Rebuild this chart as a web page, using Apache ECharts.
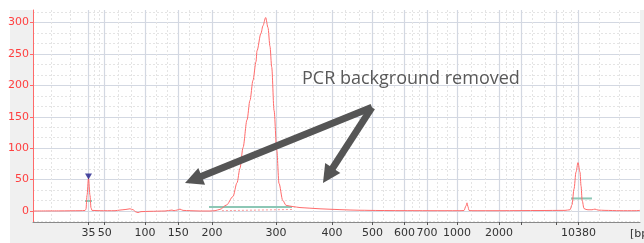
<!DOCTYPE html>
<html>
<head>
<meta charset="utf-8">
<script src="https://cdn.jsdelivr.net/npm/echarts@6/dist/echarts.min.js"></script>
<style>
  html, body { margin: 0; padding: 0; background: #ffffff; }
  #wrap { position: relative; width: 644px; height: 243px; overflow: hidden; }
  #panel { position: absolute; left: 10px; top: 10px; width: 634px; height: 233px; background: #f0f0f0; }
  #chart { position: absolute; left: 0; top: 0; width: 644px; height: 243px; }
</style>
</head>
<body>
<div id="wrap"><div id="panel"></div><div id="chart"></div></div>
<script>
// ---- Data (x = migration time in seconds, y = fluorescence units) ----
const xTickPos    = [46.40, 48.27, 52.92, 56.76, 60.64, 68.02, 74.48, 79.15, 82.84, 85.44, 88.90, 93.74, 96.28, 100.31, 102.91];
const xTickLabels = ['35', '50', '100', '150', '200', '300', '400', '500', '600', '700', '1000', '2000', '', '', '10380'];
const yTickValues = [0, 50, 100, 150, 200, 250, 300];

const traceTime = [40.00, 43.11, 45.42, 46.00, 46.11, 46.23, 46.40, 46.57, 46.69, 46.80, 47.73, 49.46, 50.03, 50.72, 51.19, 51.53, 51.88, 52.11, 52.45, 53.49, 55.22, 56.03, 56.26, 56.61, 56.95, 57.30, 58.11, 59.26, 60.41, 60.99, 61.56, 62.31, 63.06, 63.53, 63.87, 64.22, 64.68, 65.02, 65.37, 65.72, 65.83, 66.29, 66.52, 66.83, 67.10, 67.33, 67.53, 67.80, 68.11, 68.37, 68.80, 69.18, 69.98, 70.79, 71.94, 73.10, 74.25, 75.40, 76.56, 77.71, 80.02, 82.32, 85.78, 89.24, 89.70, 89.93, 90.05, 90.16, 90.28, 90.51, 93.85, 98.47, 101.35, 101.93, 102.16, 102.39, 102.62, 102.85, 103.08, 103.20, 103.33, 103.54, 103.77, 104.00, 104.46, 104.81, 105.16, 105.96, 107.69, 109.42, 110.00];
const traceRFU  = [0, 0.2, 0.5, 0.8, 3, 25, 52, 25, 5, 1, 0.5, 0.5, 1.5, 2.5, 3.5, 2, -1.5, -2.5, -1, -0.5, 0, 1.5, 0.5, 1.5, 3, 1, 0.5, 0, 0, 0.5, 2.6, 9.5, 23, 45, 68, 101, 145, 176, 208, 238, 255, 283, 295, 308, 292, 262, 229, 160, 97, 44, 17, 9, 7, 5.5, 4.5, 3.5, 2.8, 2.2, 1.6, 1.2, 0.8, 0.6, 0.5, 0.5, 0.8, 8, 13, 7, 1, 0.5, 0.5, 0.8, 1, 2, 10, 35, 62, 77, 62, 40, 17, 4, 2.5, 2, 2, 3, 1.5, 1, 0.5, 0.5, 1];

// integration region bars (start time, end time, level)
const regionStart = [46.00, 60.30, 102.04];
const regionEnd   = [46.80, 69.87, 104.46];
const regionLevel = [16, 6.5, 20];

// smear baseline
const baselineTime = [61.79, 69.98];
const baselineRFU  = [0.5, 2.5];

// marker peak
const markerTime = [46.40];
const markerRFU  = [55];

// annotation
const annotationText = 'PCR background removed';
const annotationAt = [71.02, 210];
const arrowFrom = [79.09, 165];
const arrowTo = [[57.53, 44.4], [73.44, 44.4]];

const xMin = 40, xMax = 110, yMin = -17.5, yMax = 320;

// minor gridlines: thirds between major gridlines
const majorAll = [xMin].concat(xTickPos, [xMax]);
const xMinor = [];
for (let i = 0; i < majorAll.length - 1; i++) {
  const a = majorAll[i], b = majorAll[i + 1];
  xMinor.push(+(a + (b - a) / 3).toFixed(3), +(a + 2 * (b - a) / 3).toFixed(3));
}
const yMinor = [];
for (let v = -50; v <= 350; v += 50) {
  [v + 50 / 3, v + 100 / 3].forEach(m => { if (m > yMin && m < yMax) yMinor.push(+m.toFixed(3)); });
}

const chart = echarts.init(document.getElementById('chart'), null, { renderer: 'canvas' });
const FONT = 'DejaVu Sans';

const trace = traceTime.map((t, i) => [t, traceRFU[i]]);
const regionSeries = regionStart.map((s, i) => ({
  type: 'line', xAxisIndex: 0, yAxisIndex: 0, silent: true, symbol: 'none', z: 3,
  lineStyle: { color: '#8cc7b5', width: 2 },
  data: [[s, regionLevel[i]], [regionEnd[i], regionLevel[i]]]
}));

function labelFor(v) {
  let best = 0, bd = Infinity;
  xTickPos.forEach((p, i) => { const d = Math.abs(p - v); if (d < bd) { bd = d; best = i; } });
  return xTickLabels[best];
}

chart.setOption({
  animation: false,
  backgroundColor: 'transparent',
  grid: { left: 33, top: 10, right: 4, bottom: 21, show: true, backgroundColor: '#ffffff', borderWidth: 0, outerBoundsMode: 'none' },
  xAxis: [{
    type: 'value', min: xMin, max: xMax, position: 'bottom',
    name: '[bp]', nameLocation: 'end', nameGap: -10,
    nameTextStyle: { fontFamily: FONT, fontSize: 11, color: '#333', align: 'left', verticalAlign: 'top', padding: [7, 0, 0, 0] },
    axisLine: { show: true, onZero: false, lineStyle: { color: '#8a8a8a', width: 1 } },
    axisTick: { show: true, length: 3, inside: false, customValues: xTickPos, lineStyle: { color: '#555' } },
    axisLabel: { show: true, customValues: xTickPos, formatter: v => labelFor(v), fontFamily: FONT, fontSize: 11, color: '#333', margin: 6 },
    splitLine: { show: true, lineStyle: { color: '#d3d8e2', width: 1.2 } }
  }, {
    type: 'value', min: xMin, max: xMax, position: 'top',
    axisLine: { show: false }, axisLabel: { show: false },
    axisTick: { show: false, customValues: xMinor },
    splitLine: { show: true, lineStyle: { color: '#e4e4e4', type: [2, 2], width: 1 } }
  }],
  yAxis: [{
    type: 'value', min: yMin, max: yMax, position: 'left',
    axisLine: { show: true, onZero: false, lineStyle: { color: '#ff6a6a', width: 1 } },
    axisTick: { show: true, length: 3, customValues: yTickValues, lineStyle: { color: '#ff6a6a' } },
    axisLabel: { show: true, customValues: yTickValues, fontFamily: FONT, fontSize: 11, color: '#ff4040', margin: 4 },
    splitLine: { show: true, lineStyle: { color: '#d3d8e2', width: 1.2 } }
  }, {
    type: 'value', min: yMin, max: yMax, position: 'right',
    axisLine: { show: false }, axisLabel: { show: false },
    axisTick: { show: false, customValues: yMinor },
    splitLine: { show: true, lineStyle: { color: '#e4e4e4', type: [2, 2], width: 1 } }
  }],
  series: [{
    type: 'line', xAxisIndex: 0, yAxisIndex: 0, silent: true, symbol: 'none', z: 4,
    smooth: 0.3, smoothMonotone: 'x',
    lineStyle: { color: '#ff6b6b', width: 1 },
    data: trace
  }, {
    type: 'line', xAxisIndex: 0, yAxisIndex: 0, silent: true, symbol: 'none', z: 3,
    lineStyle: { color: '#ff9a9a', width: 1, type: [2, 2] },
    data: baselineTime.map((t, i) => [t, baselineRFU[i]])
  }, {
    type: 'scatter', xAxisIndex: 0, yAxisIndex: 0, silent: true, z: 5,
    symbol: 'triangle', symbolRotate: 180, symbolSize: [7, 6],
    itemStyle: { color: '#1e1e8a' },
    data: markerTime.map((t, i) => [t, markerRFU[i]])
  }].concat(regionSeries)
});

// annotation arrows & text, positioned through the chart's coordinate system
const p0 = chart.convertToPixel({ xAxisIndex: 0, yAxisIndex: 0 }, arrowFrom);
const graphics = [];
const headLen = 18, headW = 18, lw = 7, col = '#555555';
arrowTo.forEach(tgt => {
  const p1 = chart.convertToPixel({ xAxisIndex: 0, yAxisIndex: 0 }, tgt);
  const dx = p1[0] - p0[0], dy = p1[1] - p0[1];
  const L = Math.sqrt(dx * dx + dy * dy);
  const ux = dx / L, uy = dy / L;
  const bx = p1[0] - ux * headLen, by = p1[1] - uy * headLen;
  const px = -uy, py = ux;
  graphics.push({
    type: 'line', z: 100, silent: true,
    shape: { x1: p0[0], y1: p0[1], x2: bx + ux * 2, y2: by + uy * 2 },
    style: { stroke: col, lineWidth: lw, lineCap: 'butt' }
  });
  graphics.push({
    type: 'polygon', z: 100, silent: true,
    shape: { points: [[p1[0], p1[1]], [bx + px * headW / 2, by + py * headW / 2], [bx - px * headW / 2, by - py * headW / 2]] },
    style: { fill: col }
  });
});
const tp = chart.convertToPixel({ xAxisIndex: 0, yAxisIndex: 0 }, annotationAt);
graphics.push({
  type: 'text', z: 100, silent: true, x: tp[0], y: tp[1],
  style: { text: annotationText, font: '18px "Open Sans"', fill: '#595959', align: 'left', verticalAlign: 'middle' }
});
chart.setOption({ graphic: graphics });
</script>
</body>
</html>
